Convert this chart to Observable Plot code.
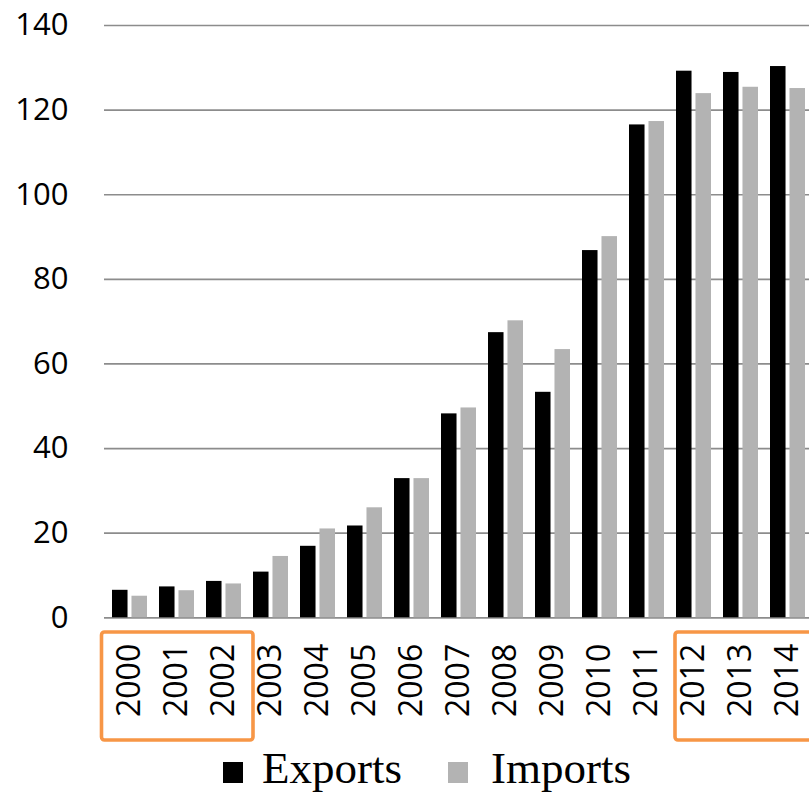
<!DOCTYPE html>
<html>
<head>
<meta charset="utf-8">
<script src="https://cdn.jsdelivr.net/npm/d3@7"></script>
<script src="https://cdn.jsdelivr.net/npm/@observablehq/plot@0.6"></script>
<style>
  html, body { margin: 0; padding: 0; background: #fff; }
  #wrap { position: relative; width: 809px; height: 793px; overflow: hidden; background: #fff; }
  #chart { width: 830px; }
  #chart svg { overflow: visible; max-width: none; }
  #legend { position: absolute; left: 223px; top: 744px; font-family: "Liberation Serif", "Times New Roman", serif; font-size: 45px; line-height: 48px; white-space: nowrap; color: #000; }
  #legend .sw { display: inline-block; width: 20px; height: 21px; vertical-align: baseline; }
</style>
</head>
<body>
<div id="wrap"><div id="chart"></div><div id="legend"></div></div>
<script>
const years = ["2000","2001","2002","2003","2004","2005","2006","2007","2008","2009","2010","2011","2012","2013","2014"];
const exportsVals = [6.5, 7.3, 8.6, 10.8, 16.9, 21.7, 32.9, 48.2, 67.4, 53.3, 86.8, 116.5, 129.2, 128.9, 130.3];
const importsVals = [5.1, 6.4, 8.0, 14.5, 21.0, 26.0, 32.9, 49.6, 70.2, 63.4, 90.1, 117.3, 123.9, 125.4, 125.1];
const yTicks = [0, 20, 40, 60, 80, 100, 120, 140];
const seriesNames = ["Exports", "Imports"];
const seriesColors = ["#000000", "#b3b3b3"];
const highlightFirst = [{start: "2000", end: "2002"}];
const highlightLast = [{start: "2012", end: "2014"}];

const table = years.map((year, i) => ({year, exports: exportsVals[i], imports: importsVals[i]}));

const bandwidth = 35.475;
const barW = 16;

const chart = Plot.plot({
  width: 830,
  height: 745,
  marginLeft: 104,
  marginRight: 16.5,
  marginTop: 25,
  marginBottom: 127.7,
  style: {background: "#fff", color: "#000", overflow: "visible"},
  x: {domain: years, paddingInner: 0.25, paddingOuter: 0.125, axis: null},
  y: {domain: [0, 140], axis: null},
  marks: [
    Plot.gridY(yTicks, {stroke: "#8c8c8c", strokeOpacity: 1, strokeWidth: 1.7}),
    Plot.barY(table, {x: "year", y: "exports", fill: seriesColors[0], insetRight: bandwidth - barW}),
    Plot.barY(table, {x: "year", y: "imports", fill: seriesColors[1], insetLeft: bandwidth - barW}),
    Plot.axisY(yTicks, {tickSize: 0, tickPadding: 36, fontSize: 31, fontFamily: "Open Sans", label: null, fill: "#000"}),
    Plot.axisX({tickRotate: -90, tickSize: 0, tickPadding: 26, fontSize: 32, fontFamily: "Open Sans", label: null, fill: "#000"}),
    Plot.rect(highlightFirst, {x1: "start", x2: "end", fill: "none", stroke: "#f79646", strokeWidth: 3.6, rx: 3,
      insetLeft: -10.5, insetRight: -12, insetTop: 607, insetBottom: -122.7}),
    Plot.rect(highlightLast, {x1: "start", x2: "end", fill: "none", stroke: "#f79646", strokeWidth: 3.6, rx: 3,
      insetLeft: -1, insetRight: -12, insetTop: 607, insetBottom: -122.7})
  ]
});
document.getElementById("chart").appendChild(chart);

const legend = document.getElementById("legend");
seriesNames.forEach((name, i) => {
  const sw = document.createElement("span");
  sw.className = "sw";
  sw.style.background = seriesColors[i];
  sw.style.marginRight = i === 0 ? "19px" : "23px";
  legend.appendChild(sw);
  const t = document.createElement("span");
  t.textContent = name;
  t.style.marginRight = i === 0 ? "46px" : "0";
  legend.appendChild(t);
});
</script>
</body>
</html>
